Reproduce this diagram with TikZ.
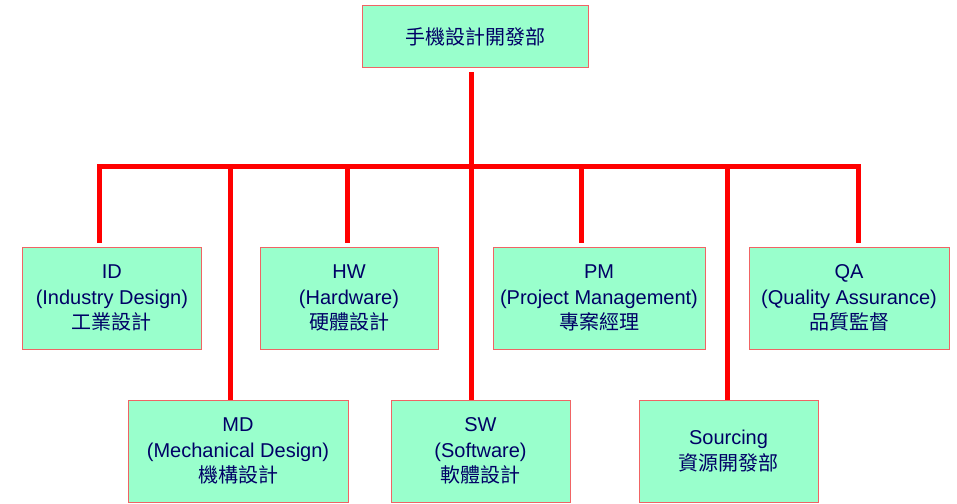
\documentclass[tikz,border=0pt]{standalone}
\usepackage{fontspec}
\setmainfont{Liberation Sans}
\newfontfamily\cjk{Noto Sans CJK TC}
\definecolor{boxfill}{RGB}{153,255,204}
\definecolor{boxline}{RGB}{240,100,100}
\definecolor{txt}{RGB}{0,0,102}
\definecolor{conn}{RGB}{255,0,0}
\begin{document}
\begin{tikzpicture}[x=1pt,y=-1pt,
  unit/.style={draw=boxline,line width=1pt,fill=boxfill,rectangle,inner sep=0pt,
    align=center,text=txt,font=\fontsize{20}{25.5}\selectfont,minimum height=102pt},
  link/.style={draw=conn,line width=5pt,line join=miter}]
\useasboundingbox (0,0) rectangle (957,503);
% boxes
\node[unit,minimum width=226.5pt,minimum height=62pt] (top) at (475.3,36.7) {\cjk 手機設計開發部};
\node[unit,minimum width=178.3pt] (id) at (111.9,298) {ID\\(Industry Design)\\{\cjk 工業設計}};
\node[unit,minimum width=178pt] (hw) at (349,298) {HW\\(Hardware)\\{\cjk 硬體設計}};
\node[unit,minimum width=212pt] (pm) at (599,298) {PM\\(Project Management)\\{\cjk 專案經理}};
\node[unit,minimum width=200pt] (qa) at (849,298) {QA\\(Quality Assurance)\\{\cjk 品質監督}};
\node[unit,minimum width=220pt] (md) at (238,451) {MD\\(Mechanical Design)\\{\cjk 機構設計}};
\node[unit,minimum width=179pt] (sw) at (480.5,451) {SW\\(Software)\\{\cjk 軟體設計}};
\node[unit,minimum width=179pt] (src) at (728.5,451) {Sourcing\\{\cjk 資源開發部}};
% bar coordinates
\coordinate (tk) at (471,166.5);
\coordinate (dID) at (99.3,166.5);
\coordinate (dMD) at (230.7,166.5);
\coordinate (dHW) at (347,166.5);
\coordinate (dPM) at (581,166.5);
\coordinate (dSRC) at (727,166.5);
\coordinate (dQA) at (858,166.5);
% connectors
\draw[link,shorten <=4pt] (tk |- top.south) -- (tk |- sw.north);
\draw[link,shorten <=4pt,shorten >=4pt] (dID |- id.north) -- (dID) -- (dQA) -- (dQA |- qa.north);
\draw[link] (dMD) -- (dMD |- md.north);
\draw[link,shorten >=4pt] (dHW) -- (dHW |- hw.north);
\draw[link,shorten >=4pt] (dPM) -- (dPM |- pm.north);
\draw[link] (dSRC) -- (dSRC |- src.north);
\end{tikzpicture}
\end{document}
